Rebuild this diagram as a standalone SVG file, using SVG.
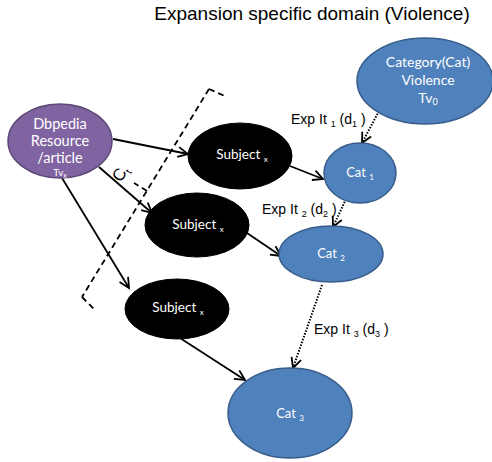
<svg xmlns="http://www.w3.org/2000/svg" width="492" height="462" viewBox="0 0 492 462">
  <style>
    .lbl { font-family: "Liberation Sans", Arial, sans-serif; fill: #000; }
    .ntx { font-family: Lato, "Open Sans", sans-serif; fill: #fff; text-anchor: middle; }
    .blue { fill: #4F81BD; stroke: #385D8A; stroke-width: 1.5; }
    .purple { fill: #8064A2; stroke: #5C4776; stroke-width: 1.5; }
    .black { fill: #000; stroke: #000; stroke-width: 1; }
    .solid { fill: none; stroke: #000; stroke-width: 1.8; marker-end: url(#arr); }
    .dot { fill: none; stroke: #000; stroke-width: 2; stroke-dasharray: 1.5 1.5; marker-end: url(#arr); }
    .brace { fill: none; stroke: #000; stroke-width: 1.8; stroke-dasharray: 6 4; }
  </style>
  <defs>
    <marker id="arr" markerUnits="userSpaceOnUse" markerWidth="14" markerHeight="14" refX="11" refY="6" orient="auto">
      <path d="M1,1 L11,6 L1,11" fill="none" stroke="#000" stroke-width="1.8" stroke-dasharray="none"/>
    </marker>
  </defs>

  <text class="lbl" x="312" y="20" font-size="19" text-anchor="middle">Expansion specific domain (Violence)</text>

  <!-- dashed bracket with its label -->
  <g id="bracket">
    <path class="brace" d="M209,89 L227,97"/>
    <path class="brace" d="M209,89 L82,297"/>
    <path class="brace" d="M82,297 L95,310"/>
    <path class="brace" d="M147,191 L134,183" stroke-dasharray="4 3"/>
    <text class="lbl" font-size="17" transform="translate(121,183) rotate(-58.6)">C<tspan font-size="10" dy="4">t</tspan></text>
  </g>

  <g id="connectors">
    <line class="solid" x1="113" y1="139" x2="188" y2="154"/>
    <line class="solid" x1="99" y1="167" x2="152" y2="213"/>
    <line class="solid" x1="62" y1="178" x2="129" y2="288"/>
    <line class="solid" x1="290" y1="166" x2="323" y2="179"/>
    <line class="solid" x1="247" y1="233" x2="281" y2="256"/>
    <line class="solid" x1="180" y1="338" x2="245" y2="380"/>
    <line class="dot" x1="379" y1="111" x2="362" y2="143"/>
    <line class="dot" x1="346" y1="199" x2="333" y2="227"/>
    <line class="dot" x1="322" y1="285" x2="293" y2="368"/>
  </g>

  <g id="dbpedia">
    <ellipse class="purple" cx="60" cy="141" rx="52" ry="37"/>
    <text class="ntx" x="60" y="129" font-size="14.5">Dbpedia</text>
    <text class="ntx" x="60" y="146" font-size="14.5">Resource</text>
    <text class="ntx" x="60" y="163" font-size="14.5">/article</text>
    <text class="ntx" x="60" y="176" font-size="10">Tv<tspan font-size="7" dy="2">x</tspan></text>
  </g>

  <g id="category">
    <ellipse class="blue" cx="425" cy="81" rx="68" ry="43"/>
    <text class="ntx" x="428" y="67" font-size="14">Category(Cat)</text>
    <text class="ntx" x="428" y="85" font-size="14">Violence</text>
    <text class="ntx" x="428" y="103" font-size="14">Tv<tspan font-size="9" dy="2">0</tspan></text>
  </g>

  <g id="subject1">
    <ellipse class="black" cx="240" cy="156" rx="52" ry="33"/>
    <text class="ntx" x="242" y="159" font-size="13.5">Subject <tspan font-size="8" dy="3">x</tspan></text>
  </g>

  <g id="subject2">
    <ellipse class="black" cx="197" cy="225" rx="52" ry="32"/>
    <text class="ntx" x="198" y="229" font-size="13.5">Subject <tspan font-size="8" dy="3">x</tspan></text>
  </g>

  <g id="subject3">
    <ellipse class="black" cx="177" cy="309" rx="52" ry="30"/>
    <text class="ntx" x="178" y="312" font-size="13.5">Subject <tspan font-size="8" dy="3">x</tspan></text>
  </g>

  <g id="cat1">
    <ellipse class="blue" cx="360" cy="173" rx="36" ry="30"/>
    <text class="ntx" x="360" y="177" font-size="13">Cat <tspan font-size="8" dy="3">1</tspan></text>
  </g>

  <g id="cat2">
    <ellipse class="blue" cx="331" cy="254" rx="52" ry="28"/>
    <text class="ntx" x="331" y="258" font-size="13">Cat <tspan font-size="8" dy="3">2</tspan></text>
  </g>

  <g id="cat3">
    <ellipse class="blue" cx="290" cy="413" rx="62" ry="45"/>
    <text class="ntx" x="290" y="418" font-size="13">Cat <tspan font-size="8" dy="3">3</tspan></text>
  </g>

  <g id="edge-labels">
    <text class="lbl" x="291" y="124" font-size="14">Exp It <tspan font-size="9" dy="3">1</tspan><tspan dy="-3"> (d</tspan><tspan font-size="9" dy="3">1</tspan><tspan dy="-3"> )</tspan></text>
    <text class="lbl" x="262" y="214" font-size="14">Exp It <tspan font-size="9" dy="3">2</tspan><tspan dy="-3"> (d</tspan><tspan font-size="9" dy="3">2</tspan><tspan dy="-3"> )</tspan></text>
    <text class="lbl" x="314" y="334" font-size="14">Exp It <tspan font-size="9" dy="3">3</tspan><tspan dy="-3"> (d</tspan><tspan font-size="9" dy="3">3</tspan><tspan dy="-3"> )</tspan></text>
  </g>
</svg>
